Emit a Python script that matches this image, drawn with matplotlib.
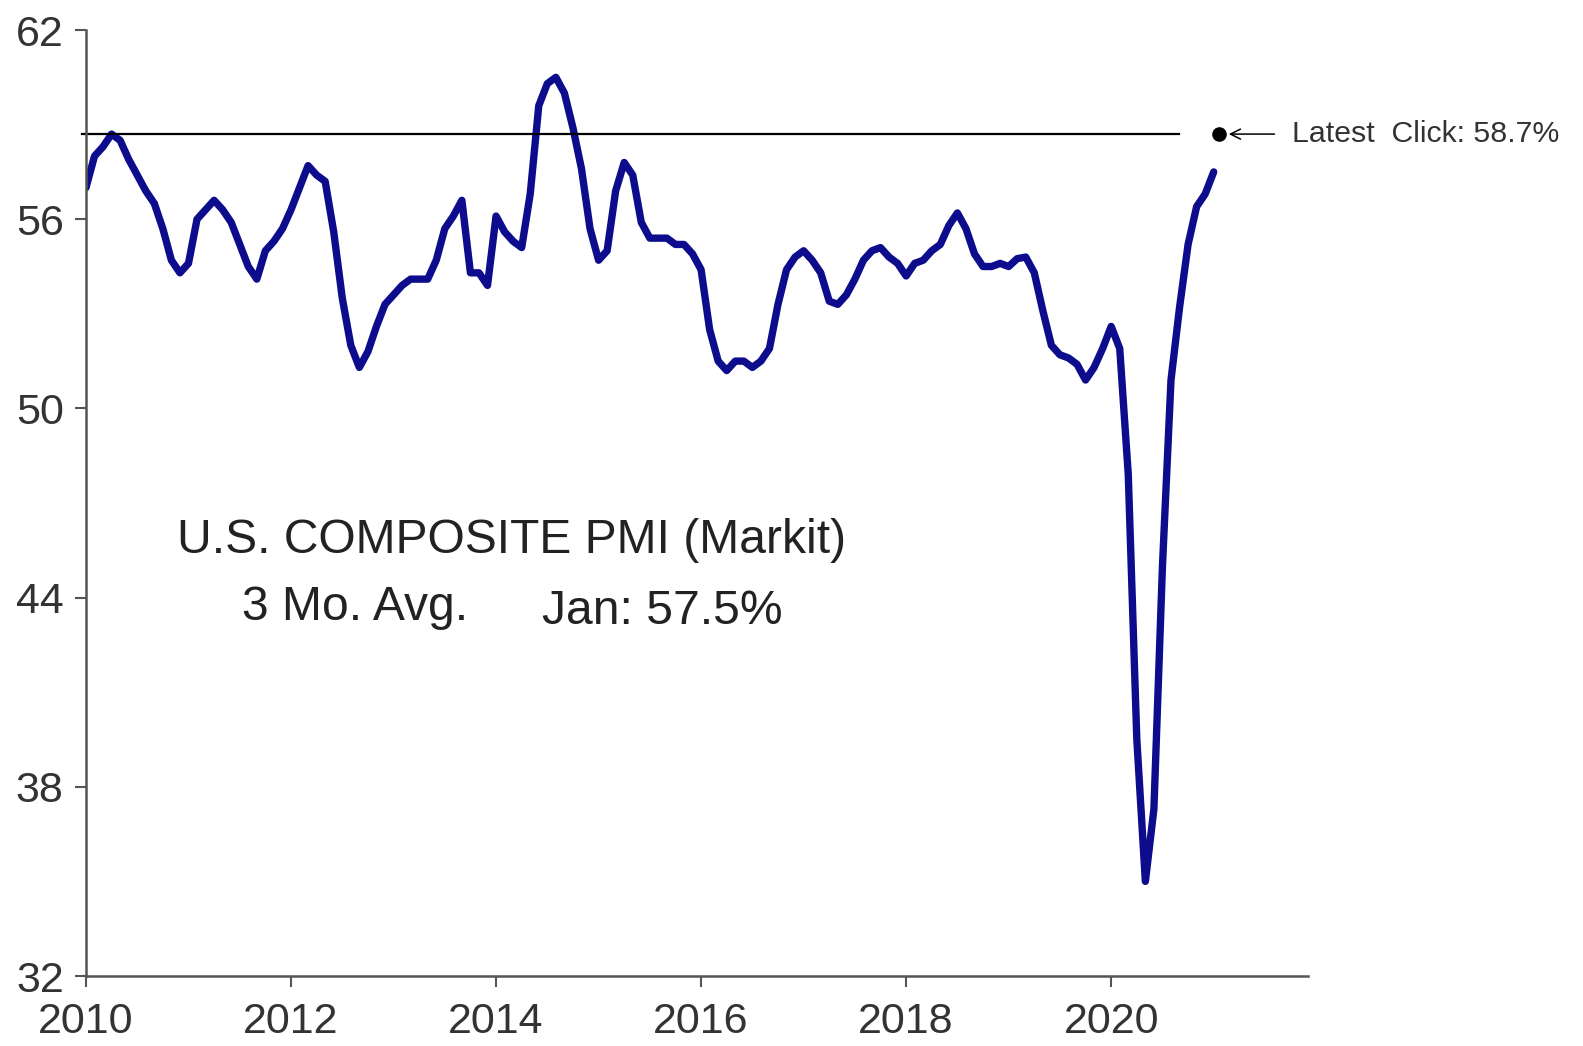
import numpy as np
import matplotlib.pyplot as plt

plt.rcParams['font.family'] = ['Liberation Sans', 'DejaVu Sans']

# U.S. composite PMI (Markit), 3-month average, monthly Jan 2010 .. Jan 2021
pmi_3mo = [
    57.0, 58.0, 58.3, 58.7, 58.5, 57.9, 57.4, 56.9, 56.5, 55.7, 54.7, 54.3,   # 2010
    54.6, 56.0, 56.3, 56.6, 56.3, 55.9, 55.2, 54.5, 54.1, 55.0, 55.3, 55.7,   # 2011
    56.3, 57.0, 57.7, 57.4, 57.2, 55.6, 53.5, 52.0, 51.3, 51.8, 52.6, 53.3,   # 2012
    53.6, 53.9, 54.1, 54.1, 54.1, 54.7, 55.7, 56.1, 56.6, 54.3, 54.3, 53.9,   # 2013
    56.1, 55.6, 55.3, 55.1, 56.8, 59.6, 60.3, 60.5, 60.0, 58.9, 57.6, 55.7,   # 2014
    54.7, 55.0, 56.9, 57.8, 57.4, 55.9, 55.4, 55.4, 55.4, 55.2, 55.2, 54.9,   # 2015
    54.4, 52.5, 51.5, 51.2, 51.5, 51.5, 51.3, 51.5, 51.9, 53.3, 54.4, 54.8,   # 2016
    55.0, 54.7, 54.3, 53.4, 53.3, 53.6, 54.1, 54.7, 55.0, 55.1, 54.8, 54.6,   # 2017
    54.2, 54.6, 54.7, 55.0, 55.2, 55.8, 56.2, 55.7, 54.9, 54.5, 54.5, 54.6,   # 2018
    54.5, 54.75, 54.8, 54.3, 53.1, 52.0, 51.7, 51.6, 51.4, 50.9, 51.3, 51.9,  # 2019
    52.6, 51.9, 47.9, 39.5, 35.0, 37.3, 45.0, 50.9, 53.2, 55.2, 56.4, 56.8,   # 2020
    57.5,                                                                      # 2021
]
dates = 2010 + np.arange(len(pmi_3mo)) / 12.0

latest_click = 58.7
latest_date = 2021.05
line_end = 2020.66

fig = plt.figure(figsize=(15.83, 10.46), dpi=100)
ax = fig.add_axes([0.0543, 0.0669, 0.7720, 0.9044])

ax.plot(dates, pmi_3mo, color='#0c0c8c', lw=5.3, solid_joinstyle='round',
        solid_capstyle='round')
ax.plot([2009.96, line_end], [latest_click, latest_click], color='black', lw=1.6,
        clip_on=False)
ax.plot([latest_date], [latest_click], 'o', color='black', ms=9.5, clip_on=False)
ax.annotate('', xy=(latest_date + 0.07, latest_click),
            xytext=(latest_date + 0.57, latest_click),
            arrowprops=dict(arrowstyle='->', color='black', lw=1.1,
                            mutation_scale=18),
            annotation_clip=False)
ax.text(latest_date + 0.71, latest_click, 'Latest  Click: 58.7%', fontsize=21.8,
        color='#333333', ha='left', va='center')

ax.text(2010.89, 45.8, 'U.S. COMPOSITE PMI (Markit)', fontsize=34.6,
        color='#222222', ha='left', va='center')
ax.text(2011.52, 43.7, '3 Mo. Avg.', fontsize=34.6, color='#222222',
        ha='left', va='center')
ax.text(2014.45, 43.55, 'Jan: 57.5%', fontsize=34.6, color='#222222',
        ha='left', va='center')

ax.set_xlim(2010, 2021.92)
ax.set_ylim(32, 62)
ax.set_xticks([2010, 2012, 2014, 2016, 2018, 2020])
ax.set_yticks([32, 38, 44, 50, 56, 62])

for side in ['top', 'right']:
    ax.spines[side].set_visible(False)
for side in ['left', 'bottom']:
    ax.spines[side].set_color('#555555')
    ax.spines[side].set_linewidth(1.8)

ax.tick_params(axis='y', length=8, width=1.5, color='#555555', pad=8,
               labelsize=31, labelcolor='#333333')
ax.tick_params(axis='x', length=8, width=1.5, color='#555555', pad=11,
               labelsize=31, labelcolor='#333333')

fig.savefig('out.png', dpi=100)
